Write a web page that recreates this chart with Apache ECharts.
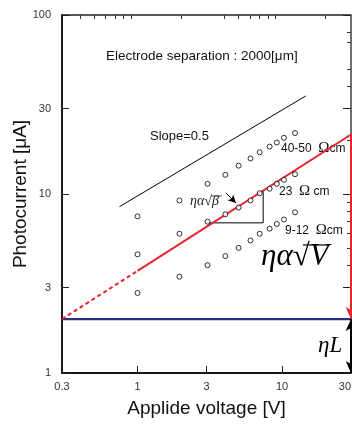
<!DOCTYPE html>
<html><head><meta charset="utf-8">
<script src="https://cdn.jsdelivr.net/npm/echarts@6/dist/echarts.min.js"></script>
<style>html,body{margin:0;padding:0;background:#fff}#c{width:352px;height:429px}</style>
</head><body><div id="c"></div>
<script>
// ---- data ----
const voltage = [1, 1.95, 3.05, 4.05, 5.0, 6.05, 7.0, 8.2, 9.2, 10.3, 12.3];
const current4050 = [7.5, 9.2, 11.4, 12.8, 14.4, 15.8, 17.1, 18.4, 19.4, 20.6, 21.9];
const current23 = [4.6, 6.0, 7.0, 7.7, 8.4, 9.2, 10.1, 10.7, 11.4, 12.0, 12.9];
const current912 = [2.8, 3.45, 4.0, 4.5, 5.0, 5.5, 6.0, 6.4, 6.8, 7.2, 7.9];
const slopeX = [0.75, 14.6];
const slopeY = [8.5, 35.3];
const fitX = [0.3, 1, 30];
const fitY = [2.0, 3.72, 21.5];
const darkLevel = 2.0;
const triX = [3, 7.4, 7.4];
const triY = [6.9, 6.9, 10.4];
const betaArrowX = [4.1, 4.8];
const betaArrowY = [10.1, 8.9];
const xRange = [0.3, 30];
const yRange = [1, 100];
const xMajorTicks = [0.3, 1, 3, 10, 30];
const xMinorTicks = [0.4, 0.5, 0.6, 0.7, 0.8, 0.9, 2, 4, 5, 6, 7, 8, 9, 20];
const yMajorTicks = [1, 3, 10, 30, 100];
const yMinorTicks = [4, 5, 6, 7, 8, 9, 20, 40, 50, 70, 80];

const pairs = (xs, ys) => xs.map((x, i) => [x, ys[i]]);
const font = 'Arial, "Liberation Sans", sans-serif';
const serif = '"Liberation Serif", "DejaVu Serif", serif';

const chart = echarts.init(document.getElementById('c'), null, {renderer: 'canvas'});

function xAx(extra) {
  return Object.assign({
    type: 'log', min: xRange[0], max: xRange[1], gridIndex: 0,
    splitLine: {show: false}, minorTick: {show: false}
  }, extra);
}
function yAx(extra) {
  return Object.assign({
    type: 'log', min: yRange[0], max: yRange[1], gridIndex: 0,
    splitLine: {show: false}, minorTick: {show: false}
  }, extra);
}

const dotStyle = {color: '#fff', borderColor: '#000', borderWidth: 1};

chart.setOption({
  animation: false,
  backgroundColor: '#fff',
  grid: {left: 62, top: 15, right: 1, bottom: 56, containLabel: false, outerBoundsMode: 'none',
         show: true, borderColor: '#222', borderWidth: 1.3},
  xAxis: [
    xAx({
      name: 'Applide voltage [V]', nameLocation: 'middle', nameGap: 26, nameMoveOverlap: false,
      nameTextStyle: {fontFamily: font, fontSize: 19, color: '#111'},
      axisLine: {show: true, lineStyle: {color: '#000', width: 1.5}},
      axisTick: {show: true, inside: true, length: 7, customValues: xMajorTicks, lineStyle: {color: '#222'}},
      axisLabel: {show: true, customValues: xMajorTicks, fontFamily: font, fontSize: 11, color: '#333', margin: 8,
                  alignMaxLabel: 'right', hideOverlap: false, showMinLabel: true, showMaxLabel: true,
                  formatter: v => String(+v.toPrecision(3))}
    }),
    xAx({
      axisLine: {show: false},
      axisTick: {show: true, inside: true, length: 4, customValues: xMinorTicks, lineStyle: {color: '#333'}},
      axisLabel: {show: false}
    })
  ],
  yAxis: [
    yAx({
      name: 'Photocurrent [\u03bcA]', nameLocation: 'middle', nameGap: 32, nameMoveOverlap: false,
      nameTextStyle: {fontFamily: font, fontSize: 19, color: '#111'},
      axisLine: {show: true, lineStyle: {color: '#000', width: 1.5}},
      axisTick: {show: true, inside: true, length: 7, customValues: yMajorTicks, lineStyle: {color: '#222'}},
      axisLabel: {show: true, customValues: yMajorTicks, fontFamily: font, fontSize: 11, color: '#333', margin: 11,
                  hideOverlap: false, showMinLabel: true, showMaxLabel: true,
                  formatter: v => String(+v.toPrecision(3))}
    }),
    yAx({
      axisLine: {show: false},
      axisTick: {show: true, inside: true, length: 4, customValues: yMinorTicks, lineStyle: {color: '#333'}},
      axisLabel: {show: false}
    }),
    yAx({
      position: 'right',
      axisLine: {show: false},
      axisTick: {show: true, inside: true, length: 8, customValues: yMajorTicks, lineStyle: {color: '#222'}},
      axisLabel: {show: false}
    })
  ],
  series: [
    {type: 'line', data: pairs(slopeX, slopeY), symbol: 'none', lineStyle: {color: '#000', width: 1}, z: 3},
    {type: 'line', data: pairs(triX, triY), symbol: 'none', lineStyle: {color: '#000', width: 1}, z: 3},
    {type: 'line', data: [[xRange[0], darkLevel], [xRange[1], darkLevel]], symbol: 'none',
     lineStyle: {color: '#2b2e7e', width: 2.2}, z: 4,
     markLine: {silent: true, symbol: ['arrow', 'arrow'], symbolSize: [8, 12], label: {show: false},
       lineStyle: {color: '#000', width: 2, type: 'solid'},
       data: [[{coord: [xRange[1], darkLevel]}, {coord: [xRange[1], yRange[0]]}]]}},
    {type: 'line', data: pairs(fitX.slice(0, 2), fitY.slice(0, 2)), symbol: 'none',
     lineStyle: {color: '#e8232b', width: 2, type: [4, 3]}, z: 5},
    {type: 'line', data: pairs(fitX.slice(1), fitY.slice(1)), symbol: 'none',
     lineStyle: {color: '#e8232b', width: 2}, z: 5,
     markLine: {silent: true, symbol: ['none', 'arrow'], symbolSize: [8, 12], label: {show: false},
       lineStyle: {color: '#e8232b', width: 2, type: 'solid'},
       data: [[{coord: [fitX[2], fitY[2]]}, {coord: [fitX[2], darkLevel]}]]}},
    {type: 'line', data: pairs(betaArrowX, betaArrowY), symbol: 'none', lineStyle: {width: 0}, z: 3,
     markLine: {silent: true, symbol: ['none', 'arrow'], symbolSize: [6, 8], label: {show: false},
       lineStyle: {color: '#000', width: 1, type: 'solid'},
       data: [[{coord: [betaArrowX[0], betaArrowY[0]]}, {coord: [betaArrowX[1], betaArrowY[1]]}]]}},
    {type: 'scatter', data: pairs(voltage, current4050), symbol: 'circle', symbolSize: 5, itemStyle: dotStyle, z: 6},
    {type: 'scatter', data: pairs(voltage, current23), symbol: 'circle', symbolSize: 5, itemStyle: dotStyle, z: 6},
    {type: 'scatter', data: pairs(voltage, current912), symbol: 'circle', symbolSize: 5, itemStyle: dotStyle, z: 6}
  ],
  graphic: [
    {type: 'text', left: 106, top: 49, style: {text: 'Electrode separation : 2000[\u03bcm]', font: '13.5px ' + font, fill: '#111'}},
    {type: 'text', left: 150, top: 130, style: {text: 'Slope=0.5', font: '13px ' + font, fill: '#111'}},
    {type: 'text', left: 281, top: 141, style: {text: '40-50  {o|\u03a9}cm', font: '12px ' + font, fill: '#111',
      rich: {o: {fontSize: 15, fontFamily: serif, fill: '#111'}}}},
    {type: 'text', left: 279, top: 184, style: {text: '23  {o|\u03a9} cm', font: '12px ' + font, fill: '#111',
      rich: {o: {fontSize: 15, fontFamily: serif, fill: '#111'}}}},
    {type: 'text', left: 285, top: 223, style: {text: '9-12  {o|\u03a9}cm', font: '12px ' + font, fill: '#111',
      rich: {o: {fontSize: 15, fontFamily: serif, fill: '#111'}}}},
    {type: 'text', left: 190, top: 194, style: {text: '\u03b7\u03b1\u221a\u03b2', font: 'italic 14px ' + serif, fill: '#222'}},
    {type: 'line', shape: {x1: 211, y1: 196, x2: 222, y2: 196}, style: {stroke: '#222', lineWidth: 0.8}},
    {type: 'text', left: 261, top: 241, style: {text: '\u03b7\u03b1\u221aV', font: 'italic 31px ' + serif, fill: '#000'}},
    {type: 'line', shape: {x1: 303, y1: 245, x2: 329, y2: 245}, style: {stroke: '#000', lineWidth: 1.2}},
    {type: 'text', left: 318, top: 334, style: {text: '\u03b7L', font: 'italic 23px ' + serif, fill: '#000'}}
  ]
});
</script>
</body></html>
